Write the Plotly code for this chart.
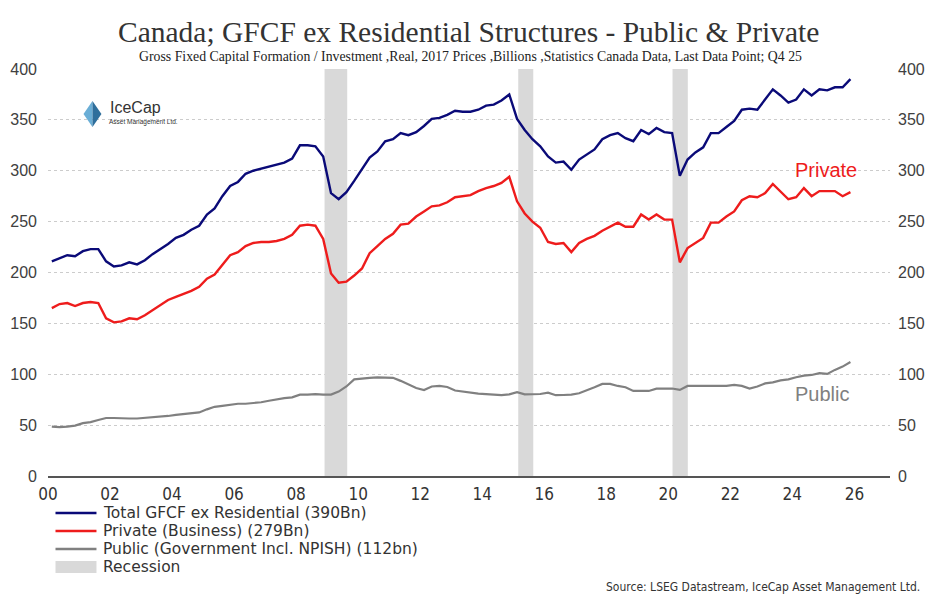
import pandas as pd
import plotly.graph_objects as go

# quarterly data, Q1 2000 .. Q4 2025 (billions, 2017 prices)
total = [211, 214, 217, 216, 221, 223, 223, 211, 206, 207, 210, 208,
         212, 218, 223, 228, 234, 237, 242, 246, 257, 263, 275, 285,
         289, 297, 300, 302, 304, 306, 308, 312, 325, 325, 324, 314,
         278, 272, 279, 290, 301, 313, 319, 329, 331, 337, 335, 338,
         344, 351, 352, 355, 359, 358, 358, 360, 364, 365, 369, 375,
         351, 340, 331, 324, 314, 308, 309, 301, 311, 316, 321, 331,
         335, 337, 332, 329, 340, 336, 342, 338, 337, 295, 311, 318,
         323, 337, 337, 343, 349, 360, 361, 360, 370, 380, 374, 367,
         370, 380, 374, 380, 379, 382, 382, 390]
private = [165, 169, 170, 167, 170, 171, 170, 155, 151, 152, 155, 154,
           158, 163, 168, 173, 176, 179, 182, 186, 194, 198, 208, 217,
           220, 226, 229, 230, 230, 231, 233, 237, 246, 247, 246, 233,
           199, 190, 191, 197, 204, 219, 226, 233, 238, 247, 248, 255,
           260, 265, 266, 269, 274, 275, 276, 280, 283, 285, 288, 294,
           270, 258, 250, 244, 230, 228, 229, 220, 229, 233, 236, 241,
           245, 249, 245, 245, 257, 252, 257, 252, 252, 210, 224, 229,
           234, 249, 249, 255, 260, 271, 275, 274, 278, 287, 280, 272,
           274, 283, 275, 280, 280, 280, 275, 279]
public = [48.5, 48, 48.5, 49.5, 52, 53, 55, 57, 57, 56.5, 56.5, 56.5,
          57, 57.5, 58.5, 59, 60, 61, 61.5, 62.5, 65.5, 68, 69, 70,
          71, 71, 71.5, 72.5, 74, 75.5, 76.5, 77.3, 80, 80, 80.5, 80,
          80, 83, 88, 95, 96, 96.5, 97, 97, 96.5, 93.5, 90, 86.5,
          84.5, 88, 88.5, 87.5, 84, 83, 81.5, 81, 80.5, 80, 79.5, 80.3,
          82.3, 80.3, 80.5, 80.6, 81.9, 79.4, 79.6, 80, 81.3, 83.9, 87.2, 90.5,
          90.5, 88.5, 87.2, 83.6, 83.6, 83.6, 85.8, 85.8, 86, 84.6, 88.5, 88.5,
          88.5, 88, 88, 88.5, 89.5, 88.5, 86, 88, 91, 92, 94, 95,
          97, 98.7, 99.3, 101, 100.3, 104.3, 107.5, 112]

# recessions (shaded)
recStart = ["2008-12-01", "2015-03-01", "2020-02-20"]
recEnd = ["2009-08-25", "2015-08-25", "2020-08-18"]

legendNames = ["Total GFCF ex Residential (390Bn)", "Private (Business) (279Bn)",
               "Public (Government Incl. NPISH) (112bn)", "Recession"]

dates = pd.date_range("2000-01-01", periods=len(total), freq="QS") + pd.Timedelta(days=45)

navy = "#0a0a78"
red = "#ee1c1c"
grey = "#808080"
band = "#d9d9d9"
narrow = "Liberation Sans Narrow, Arial Narrow, DejaVu Sans Condensed, sans-serif"

# the page has an 8px body margin, so the figure is 8px smaller than the window
# plot area on screen is 47.5..890 x 69..476
def px(x):
    return (x - 47.5) / 842.5
def py(y):
    return (476 - y) / 407.0

fig = go.Figure()

# recession bands, drawn as one filled trace
recX, recY = [], []
for s, e in zip(recStart, recEnd):
    recX += [s, s, e, e, s, None]
    recY += [0, 400, 400, 0, 0, None]
fig.add_trace(go.Scatter(x=recX, y=recY, fill="toself", fillcolor=band,
                         line=dict(width=0), mode="lines", hoverinfo="skip"))

fig.add_trace(go.Scatter(x=dates, y=public, mode="lines", line=dict(color=grey, width=2.2)))
fig.add_trace(go.Scatter(x=dates, y=private, mode="lines", line=dict(color=red, width=2.4)))
fig.add_trace(go.Scatter(x=dates, y=total, mode="lines", line=dict(color=navy, width=2.4)))
# invisible trace so the right axis shows
fig.add_trace(go.Scatter(x=[dates[0]], y=[0], yaxis="y2", mode="markers",
                         marker=dict(opacity=0), hoverinfo="skip"))

fig.update_layout(
    width=932, height=601,
    margin=dict(l=39.5, r=50, t=61, b=133),
    plot_bgcolor="white", paper_bgcolor="white",
    showlegend=False,
    xaxis=dict(type="date", range=["2000-01-01", "2027-02-24"],
               tick0="2000-01-01", dtick="M24", tickformat="%y",
               showgrid=False, showline=True, linecolor="#555555", linewidth=1.5,
               ticks="", ticklabelstandoff=2, automargin=False,
               tickfont=dict(family=narrow, size=17, color="#333333")),
    yaxis=dict(range=[0, 400], dtick=50, showgrid=True, gridcolor="#cccccc",
               griddash="dot", gridwidth=1, zeroline=False, ticks="",
               ticklabelstandoff=10, automargin=False,
               tickfont=dict(family="Liberation Sans, sans-serif", size=16, color="#404040")),
    yaxis2=dict(range=[0, 400], dtick=50, overlaying="y", side="right",
                showgrid=False, zeroline=False, ticks="", ticklabelstandoff=7,
                automargin=False,
                tickfont=dict(family="Liberation Sans, sans-serif", size=16, color="#404040")),
)

annos = [
    dict(text="Canada; GFCF ex Residential Structures - Public & Private",
         x=px(468), y=py(32), xanchor="center", yanchor="middle",
         font=dict(family="Liberation Serif, serif", size=29.5, color="#333333")),
    dict(text="Gross Fixed Capital Formation / Investment ,Real, 2017 Prices ,Billions ,Statistics Canada Data, Last Data Point; Q4 25",
         x=px(470), y=py(57), xanchor="center", yanchor="middle",
         font=dict(family="Liberation Serif, serif", size=13.8, color="#222222")),
    dict(text="Private", x=px(826), y=py(170), xanchor="center", yanchor="middle",
         font=dict(family="Liberation Sans, sans-serif", size=20, color=red)),
    dict(text="Public", x=px(822), y=py(394), xanchor="center", yanchor="middle",
         font=dict(family="Liberation Sans, sans-serif", size=20, color=grey)),
    dict(text="Source: LSEG Datastream, IceCap Asset Management Ltd.",
         x=px(922), y=py(587), xanchor="right", yanchor="middle",
         font=dict(family=narrow, size=12, color="#333333")),
    # logo text
    dict(text="IceCap", x=px(108), y=py(108), xanchor="left", yanchor="middle",
         font=dict(family="Liberation Sans, sans-serif", size=16, color="#333333")),
    dict(text="Asset Management Ltd.", x=px(107), y=py(122), xanchor="left", yanchor="middle",
         font=dict(family="Liberation Sans, sans-serif", size=6.5, color="#333333")),
]

# hand drawn legend below the chart
legendRows = [513, 531, 549, 567]
legendColors = [navy, red, grey, band]
for name, col, yy in zip(legendNames, legendColors, legendRows):
    if name == "Recession":
        fig.add_shape(type="rect", xref="paper", yref="paper",
                      x0=px(55), x1=px(96), y0=py(yy - 6), y1=py(yy + 6),
                      fillcolor=col, line=dict(width=0))
    else:
        fig.add_shape(type="line", xref="paper", yref="paper",
                      x0=px(55), x1=px(96), y0=py(yy), y1=py(yy),
                      line=dict(color=col, width=2.5))
    annos.append(dict(text=name, x=px(101), y=py(yy), xanchor="left", yanchor="middle",
                      font=dict(family="DejaVu Sans, sans-serif", size=15.5, color="#333333")))

for a in annos:
    a.update(xref="paper", yref="paper", showarrow=False)
    fig.add_annotation(**a)

# IceCap logo icon (two facets of a crystal)
leftFacet = "M {},{} L {},{} L {},{} Z".format(px(92), py(101), px(83), py(114), px(92), py(127))
rightFacet = "M {},{} L {},{} L {},{} Z".format(px(92), py(101), px(101), py(114), px(92), py(127))
fig.add_shape(type="path", path=leftFacet, xref="paper", yref="paper",
              fillcolor="#6aaed6", line=dict(width=0))
fig.add_shape(type="path", path=rightFacet, xref="paper", yref="paper",
              fillcolor="#2f6f9c", line=dict(width=0))

fig.write_html("out.html")
